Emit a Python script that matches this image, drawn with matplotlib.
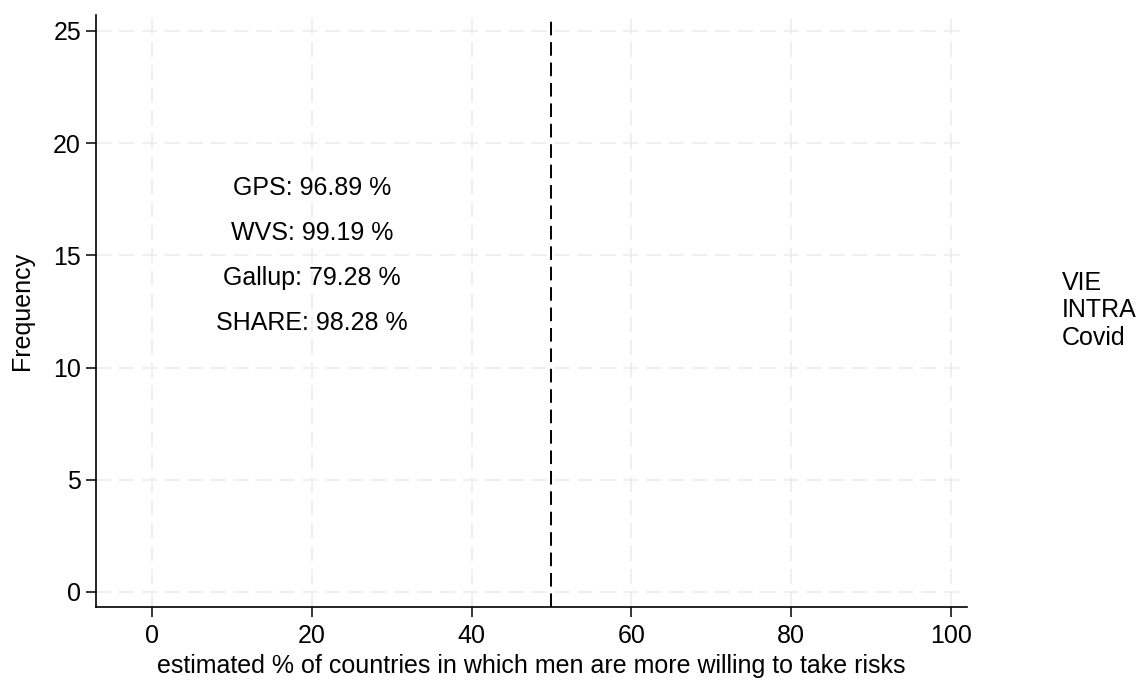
import matplotlib
matplotlib.use('Agg')
import matplotlib.pyplot as plt

plt.rcParams['font.family'] = ['Liberation Sans', 'DejaVu Sans']

# Data
survey_names = ['GPS', 'WVS', 'Gallup', 'SHARE']
survey_shares = [96.89, 99.19, 79.28, 98.28]
label_y = [18, 16, 14, 12]
label_x = 20
series_labels = ['VIE', 'INTRA', 'Covid']
series_values = [[], [], []]  # no bars in the picture
x_ticks = [0, 20, 40, 60, 80, 100]
y_ticks = [0, 5, 10, 15, 20, 25]
threshold = 50

font_size = 18
grid_color = '#ebebeb'

fig = plt.figure(figsize=(11.41, 6.82), dpi=100)
ax = fig.add_axes([0.0841, 1 - 607 / 682, 0.8475 - 0.0841, (607 - 15) / 682])

# empty histograms, only for the legend entries
for vals, lab in zip(series_values, series_labels):
    ax.hist(vals, bins=20, range=(0, 100), label=lab)

# grid
for xt in x_ticks:
    ax.axvline(xt, color=grid_color, lw=1.1, dashes=(10, 5), zorder=0)
for yt in y_ticks:
    ax.axhline(yt, color=grid_color, lw=1.1, dashes=(10, 5), zorder=0)

ax.axvline(threshold, color='black', lw=1.4, dashes=(7, 3.5), zorder=3)

for name, share, y in zip(survey_names, survey_shares, label_y):
    ax.text(label_x, y, f'{name}: {share:.2f} %', ha='center', va='center', fontsize=font_size)

ax.set_xlim(-7, 102)
ax.set_ylim(-0.67, 25.71)
ax.set_xticks(x_ticks)
ax.set_yticks(y_ticks)
ax.tick_params(labelsize=font_size, length=7.2, width=1.1, color='black')
ax.tick_params(axis='x', pad=5)
ax.set_xlabel('estimated % of countries in which men are more willing to take risks', fontsize=font_size, labelpad=4)
ax.set_ylabel('Frequency', fontsize=font_size, labelpad=14)

for side in ['top', 'right']:
    ax.spines[side].set_visible(False)
for side in ['left', 'bottom']:
    ax.spines[side].set_linewidth(1.2)
    ax.spines[side].set_color('black')

leg = fig.legend(loc='center left', bbox_to_anchor=(0.922, 0.545), frameon=False,
                 handlelength=0, handletextpad=0, labelspacing=0.15, fontsize=font_size,
                 borderaxespad=0)

fig.savefig('out.png', dpi=100)
